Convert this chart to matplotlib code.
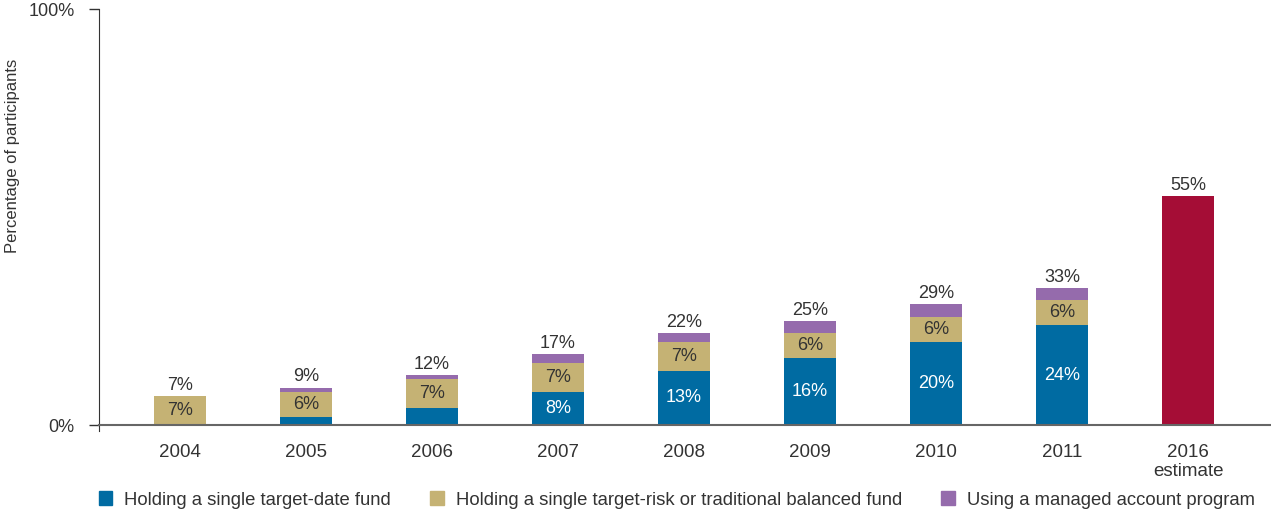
import matplotlib
matplotlib.use("Agg")
import matplotlib.pyplot as plt
from matplotlib.patches import Patch
import numpy as np

plt.rcParams['font.family'] = ['Liberation Sans', 'DejaVu Sans']

years = ["2004", "2005", "2006", "2007", "2008", "2009", "2010", "2011", "2016\nestimate"]
target_date = [0, 2, 4, 8, 13, 16, 20, 24]
target_risk = [7, 6, 7, 7, 7, 6, 6, 6]
managed = [0, 1, 1, 2, 2, 3, 3, 3]
totals = [7, 9, 12, 17, 22, 25, 29, 33, 55]
estimate_2016 = 55

series_names = ["Holding a single target-date fund",
                "Holding a single target-risk or traditional balanced fund",
                "Using a managed account program"]
c_blue, c_gold, c_purple, c_red = "#006BA2", "#C5B274", "#956BAC", "#A50D36"
txt = "#333333"

W, H = 1271, 512
fig = plt.figure(figsize=(W / 100, H / 100), dpi=100)
ax = fig.add_axes([99 / W, (H - 425) / H, 1 - 99 / W, (425 - 9) / H])

x = np.arange(len(years))
n = len(target_date)
xs = x[:n]
bw = 0.413
td = np.array(target_date)
tr = np.array(target_risk)
mg = np.array(managed)

ax.bar(xs, td, bw, color=c_blue)
ax.bar(xs, tr, bw, bottom=td, color=c_gold)
ax.bar(xs, mg, bw, bottom=td + tr, color=c_purple)
ax.bar(x[-1], estimate_2016, bw, color=c_red)

fs = 13
for i in range(n):
    if td[i] >= 5:
        ax.text(xs[i], td[i] / 2, f"{td[i]}%", ha="center", va="center",
                color="white", fontsize=fs)
    ax.text(xs[i], td[i] + tr[i] / 2, f"{tr[i]}%", ha="center", va="center",
            color=txt, fontsize=fs)
for i, t in enumerate(totals):
    top = (td[i] + tr[i] + mg[i]) if i < n else estimate_2016
    ax.annotate(f"{t}%", (x[i], top), xytext=(0, 1.5), textcoords="offset points",
                ha="center", va="bottom", color=txt, fontsize=fs)

ax.set_xlim((99 - 180) / 126, (1271 - 180) / 126)
ax.set_ylim(0, 100)
ax.set_yticks([0, 100])
ax.set_yticklabels(["0%", "100%"])
ax.set_xticks(x)
ax.set_xticklabels(years)
ax.tick_params(axis="x", length=0, pad=14, labelsize=13.5, labelcolor=txt)
ax.tick_params(axis="y", length=7.5, width=1, pad=10, labelsize=13,
               labelcolor=txt, color="#333333")
for lbl in ax.get_xticklabels():
    lbl.set_linespacing(1.1)
    lbl.set_verticalalignment("top")

for s in ["top", "right"]:
    ax.spines[s].set_visible(False)
ax.spines["left"].set_color("#333333")
ax.spines["left"].set_bounds(-1.5, 100)
ax.spines["bottom"].set_color("#666666")
ax.spines["bottom"].set_linewidth(1.5)
ax.set_ylabel("Percentage of participants", fontsize=12, color=txt)
ax.yaxis.set_label_coords((20 - 99) / (W - 99), (425 - 156) / 416)

handles = [Patch(color=c) for c in (c_blue, c_gold, c_purple)]
fig.legend(handles, series_names, loc="center left", ncol=3,
           bbox_to_anchor=(82 / W, 1 - 500 / H), frameon=False, fontsize=13.3,
           handlelength=0.75, handleheight=0.75, handletextpad=0.65,
           columnspacing=2.1, labelcolor=txt)

fig.savefig("out.png", dpi=100)
